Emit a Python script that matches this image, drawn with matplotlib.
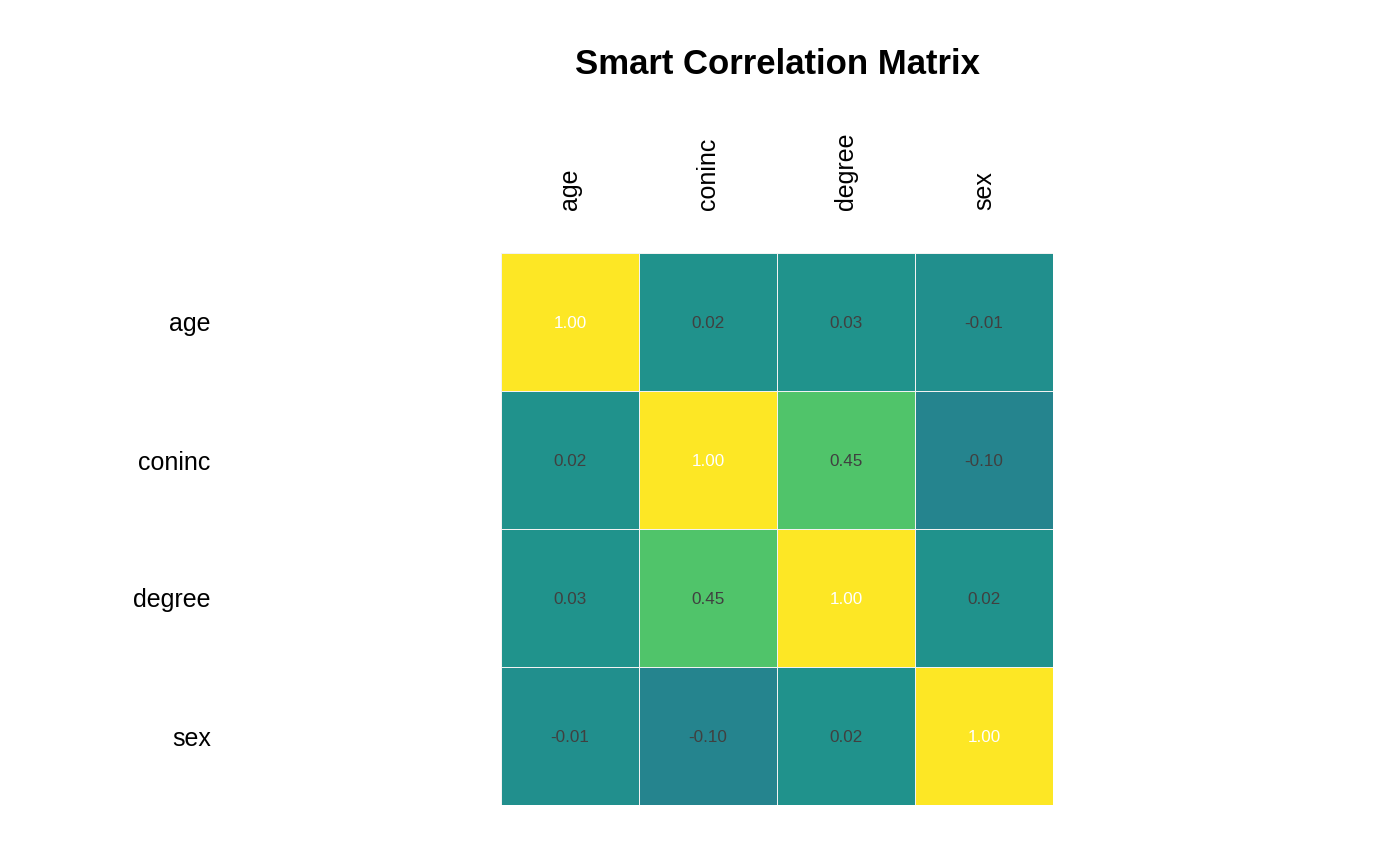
import numpy as np
import matplotlib
matplotlib.use("Agg")
import matplotlib.pyplot as plt

plt.rcParams['font.family'] = ['Liberation Sans', 'DejaVu Sans']

# variables and correlation values
labels = ['age', 'coninc', 'degree', 'sex']
corr = np.array([
    [1.00, 0.02, 0.03, -0.01],
    [0.02, 1.00, 0.45, -0.10],
    [0.03, 0.45, 1.00, 0.02],
    [-0.01, -0.10, 0.02, 1.00],
])

fig = plt.figure(figsize=(14, 8.66), dpi=100)
ax = fig.add_axes([501 / 1400, 1 - 805 / 866, 552 / 1400, 552 / 866])

ax.pcolormesh(corr, cmap='viridis', vmin=-1, vmax=1,
              edgecolor='#f2f2f2', linewidth=0.6)
ax.set_xlim(0, len(labels))
ax.set_ylim(len(labels), 0)

for i in range(len(labels)):
    for j in range(len(labels)):
        v = corr[i, j]
        col = 'white' if v >= 0.99 else '#404040'
        ax.text(j + 0.5, i + 0.5, '%.2f' % v, ha='center', va='center_baseline',
                fontsize=12.3, color=col)

ax.set_xticks(np.arange(len(labels)) + 0.5)
ax.set_yticks(np.arange(len(labels)) + 0.5)
ax.set_xticklabels(labels, rotation=90, fontsize=18)
ax.set_yticklabels(labels, fontsize=18)
ax.xaxis.tick_top()
ax.tick_params(axis='x', length=0, pad=31)
ax.tick_params(axis='y', length=0, pad=209)
for s in ax.spines.values():
    s.set_visible(False)

fig.text(777 / 1400, 1 - 65 / 866, 'Smart Correlation Matrix', ha='center',
         va='center', fontsize=25, fontweight='bold')

fig.savefig('out.png', dpi=100)
